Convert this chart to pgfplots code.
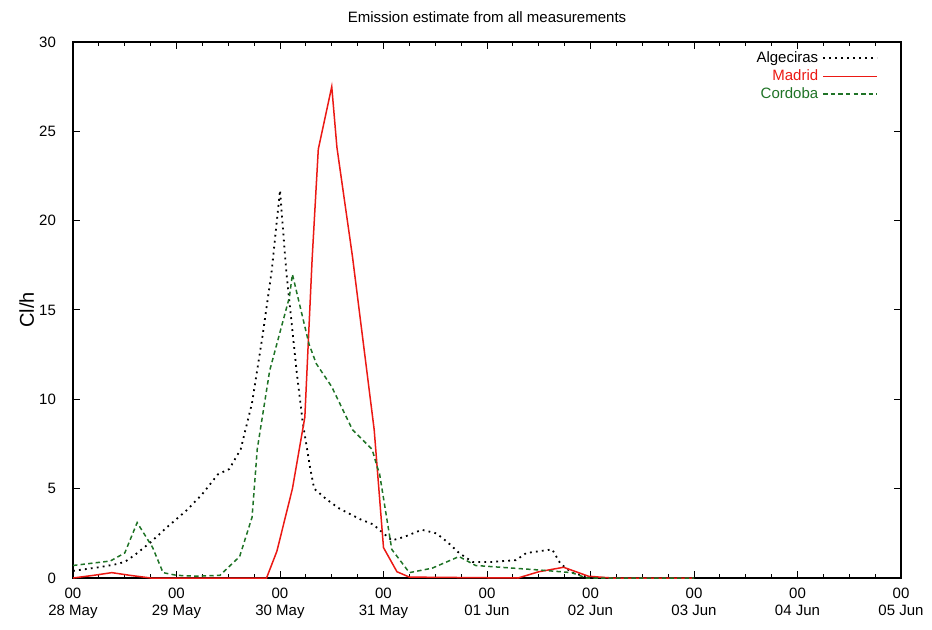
\documentclass[border=0pt]{standalone}
\usepackage{fontspec}
\setmainfont{Liberation Sans}
\usepackage{pgfplots}
\usepackage{pgfplotstable}
\pgfplotsset{compat=1.18}
\definecolor{cgreen}{rgb}{0.12,0.45,0.15}
\definecolor{mred}{rgb}{0.92,0.1,0.08}

\pgfplotstableread{
d v
0.00 0.4
0.25 0.6
0.40 0.75
0.50 0.9
0.60 1.3
0.75 2.0
0.90 2.8
1.00 3.3
1.10 3.8
1.25 4.7
1.40 5.8
1.51 6.1
1.62 7.2
1.73 9.8
1.83 13.5
1.92 17.2
2.00 21.7
2.06 17.2
2.16 11.6
2.22 8.7
2.29 6.2
2.33 5.0
2.45 4.4
2.57 3.9
2.77 3.3
2.90 3.0
3.00 2.5
3.08 2.1
3.20 2.3
3.37 2.7
3.51 2.5
3.62 2.0
3.73 1.4
3.86 0.9
4.05 0.9
4.28 1.0
4.38 1.4
4.63 1.6
4.71 0.8
4.82 0.3
4.98 0.05
5.20 0.0
6.00 0.0
}\algeciras

\pgfplotstableread{
d v
0.00 0.0
0.20 0.15
0.375 0.3
0.55 0.15
0.75 0.0
1.87 0.0
1.97 1.5
2.12 5.0
2.24 9.0
2.31 17.8
2.37 24.0
2.50 27.5
2.55 24.1
2.70 18.0
2.91 8.3
3.00 1.7
3.13 0.35
3.25 0.05
4.30 0.0
4.50 0.35
4.74 0.6
4.98 0.1
5.20 0.0
6.00 0.0
}\madrid

\pgfplotstableread{
d v
0.00 0.7
0.36 0.95
0.50 1.4
0.62 3.1
0.77 1.7
0.87 0.3
1.00 0.15
1.20 0.1
1.42 0.15
1.61 1.2
1.73 3.4
1.78 7.2
1.90 11.6
2.09 15.7
2.12 17.0
2.28 13.1
2.35 12.0
2.50 10.7
2.70 8.3
2.89 7.2
2.94 6.2
2.96 5.9
3.08 1.6
3.25 0.3
3.47 0.55
3.73 1.2
3.89 0.7
4.50 0.45
4.82 0.3
4.96 0.0
6.00 0.0
}\cordoba

\begin{document}
\begin{tikzpicture}
\begin{axis}[name=ax, scale only axis, width=414pt, height=268pt,
  xmin=0, xmax=8, ymin=0, ymax=30,
  xtick={0,1,...,8},
  xticklabels={{00\\28 May},{00\\29 May},{00\\30 May},{00\\31 May},{00\\01 Jun},{00\\02 Jun},{00\\03 Jun},{00\\04 Jun},{00\\05 Jun}},
  xticklabel style={align=center, font=\fontsize{7.5}{8.3}\selectfont, yshift=-1.5pt},
  minor x tick num=3,
  ytick={0,5,...,30},
  yticklabel style={font=\fontsize{7.5}{8.5}\selectfont, xshift=-5pt},
  /pgf/number format/assume math mode=true,
  tick align=inside, major tick length=3.5pt, minor tick length=2pt,
  tick style={black, line width=0.5pt},
  axis line style={line width=0.6pt},
  title={Emission estimate from all measurements},
  every axis title/.style={font=\fontsize{7.5}{8.5}\selectfont, at={(axis description cs:0.5,1)}, anchor=center, yshift=12.5pt},
  ylabel={Cl/h},
  ylabel style={font=\fontsize{7.5}{8.5}\selectfont},
  every axis y label/.style={at={(axis description cs:-0.056,0.5)}, anchor=center, rotate=90},
  legend plot pos=right,
  legend cell align=right,
  legend style={draw=none, fill=none, at={(axis description cs:0.98,0.998)}, anchor=north east,
    font=\fontsize{7.5}{8.5}\selectfont, row sep=-2pt},
  legend image code/.code={\draw[#1] (0pt,0pt) -- (27pt,0pt);},
]
\addplot[black, line width=0.9pt, dash pattern=on 0.9pt off 2.1pt] table[x=d,y=v] {\algeciras};
\addlegendentry{Algeciras}
\addplot[mred, line width=0.75pt] table[x=d,y=v] {\madrid};
\addlegendentry{\textcolor{mred}{Madrid}}
\addplot[cgreen, line width=0.75pt, dash pattern=on 2.2pt off 1.6pt] table[x=d,y=v] {\cordoba};
\addlegendentry{\textcolor{cgreen}{Cordoba}}
\end{axis}
\pgfresetboundingbox
\useasboundingbox ([xshift=-36.5pt,yshift=-25.5pt]ax.south west) rectangle ([xshift=15.5pt,yshift=21pt]ax.north east);
\end{tikzpicture}
\end{document}
